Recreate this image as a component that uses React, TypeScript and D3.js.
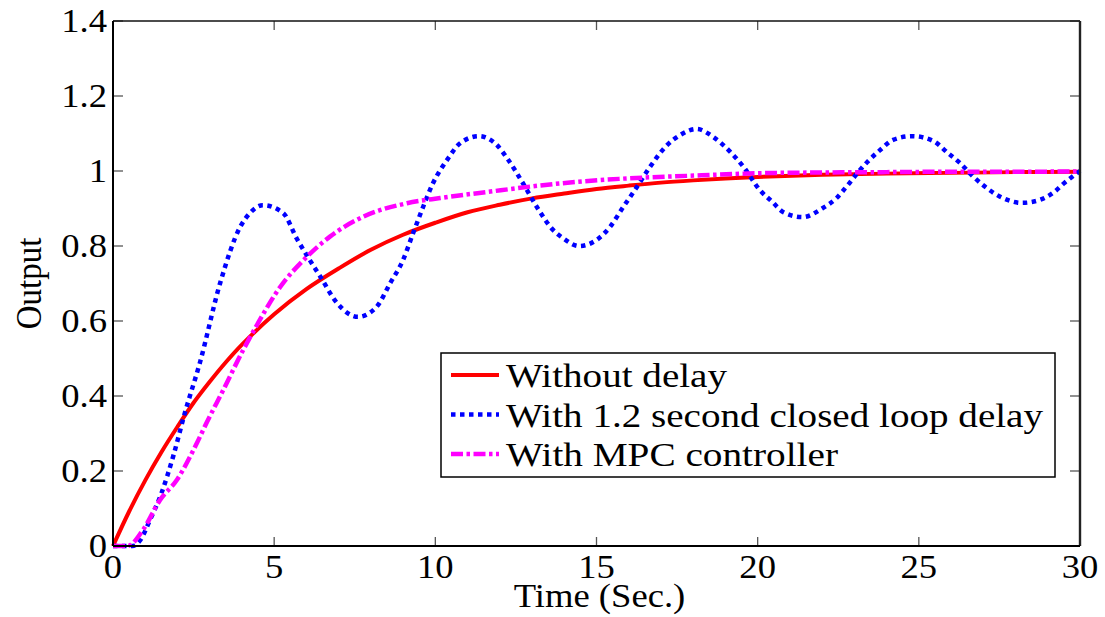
import React from "react";
import * as d3 from "d3";

// ---- data ----
const xTicks = [0, 5, 10, 15, 20, 25, 30];
const yTicks = [0, 0.2, 0.4, 0.6, 0.8, 1, 1.2, 1.4];
const yTickLabels = ["0", "0.2", "0.4", "0.6", "0.8", "1", "1.2", "1.4"];

const redT = [0, 0.5, 1, 1.5, 2, 2.5, 3, 3.5, 4, 5, 6, 7, 8, 9, 10, 11, 12, 13, 14, 15, 16, 17, 18, 19, 20, 22, 24, 26, 28, 30];
const redV = [0, 0.092, 0.175, 0.25, 0.318, 0.382, 0.438, 0.49, 0.537, 0.618, 0.685, 0.74, 0.79, 0.83, 0.862, 0.89, 0.91, 0.927, 0.94, 0.952, 0.961, 0.969, 0.975, 0.98, 0.984, 0.99, 0.993, 0.995, 0.997, 0.998];

const blueT = [0, 0.6, 0.85, 1.15, 1.5, 1.87, 2.23, 2.7, 3.32, 3.94, 4.25, 4.65, 5.28, 5.7, 6.1, 6.42, 6.95, 7.6, 8.18, 8.6, 9.0, 9.31, 9.62, 9.93, 10.36, 10.77, 11.35, 11.9, 12.26, 12.7, 13.15, 13.65, 13.96, 14.46, 15.0, 15.42, 15.83, 16.25, 16.66, 17.19, 17.6, 18.1, 18.62, 19.15, 19.56, 20.07, 20.45, 20.8, 21.4, 22.0, 22.45, 22.8, 23.1, 23.4, 23.8, 24.2, 24.8, 25.45, 25.9, 26.28, 26.7, 27.1, 27.6, 28.2, 28.76, 29.2, 29.5, 30];
const blueV = [0, 0, 0.016, 0.07, 0.14, 0.24, 0.355, 0.49, 0.7, 0.85, 0.888, 0.909, 0.888, 0.82, 0.763, 0.72, 0.648, 0.611, 0.638, 0.701, 0.763, 0.834, 0.904, 0.968, 1.029, 1.074, 1.093, 1.07, 1.03, 0.97, 0.904, 0.843, 0.821, 0.8, 0.816, 0.851, 0.904, 0.957, 1.011, 1.069, 1.096, 1.112, 1.091, 1.051, 1.011, 0.949, 0.918, 0.89, 0.877, 0.9, 0.928, 0.963, 0.995, 1.024, 1.056, 1.083, 1.093, 1.08, 1.048, 1.021, 0.984, 0.955, 0.928, 0.915, 0.923, 0.944, 0.967, 1.0];

const magT = [0, 0.45, 0.93, 1.46, 1.98, 2.6, 2.9, 3.42, 4.04, 4.47, 5.18, 6.0, 6.73, 7.76, 9.12, 10.15, 11.6, 13.65, 15.7, 17.8, 20, 22, 24, 26, 28, 30];
const magV = [0, 0, 0.043, 0.123, 0.176, 0.274, 0.328, 0.416, 0.523, 0.59, 0.69, 0.77, 0.825, 0.878, 0.914, 0.928, 0.944, 0.965, 0.979, 0.987, 0.994, 0.996, 0.997, 0.998, 0.998, 0.999];

const seriesNames = ["Without delay", "With 1.2 second closed loop delay", "With MPC controller"];
const seriesColors = ["#ff0000", "#0000ff", "#ff00ff"];
const seriesDash = ["none", "4.5 4.5", "12 3.5 3.5 3.5"];
const legendWidths = [221, 537, 332];

const W = 1105;
const H = 617;
const L = 113, R = 1080, T = 21, B = 546;
const FONT = "Liberation Serif, Times New Roman, Times, serif";
const SX = 1.11;

export default function App() {
  const x = d3.scaleLinear().domain([0, 30]).range([L, R]);
  const y = d3.scaleLinear().domain([0, 1.4]).range([B, T]);
  const mk = (c: any) =>
    d3
      .line<[number, number]>()
      .x((d) => x(d[0]))
      .y((d) => y(d[1]))
      .curve(c);
  const lines = [mk(d3.curveCatmullRom), mk(d3.curveMonotoneX), mk(d3.curveMonotoneX)];

  const series = [
    redT.map((t, i) => [t, redV[i]] as [number, number]),
    blueT.map((t, i) => [t, blueV[i]] as [number, number]),
    magT.map((t, i) => [t, magV[i]] as [number, number]),
  ];
  const widths = [4, 4.5, 4.5];

  const legX0 = 441, legY0 = 353, legX1 = 1055, legY1 = 477;
  const legBase = [387, 426.5, 466];
  const ts = { fontFamily: FONT };

  return (
    <svg
      width={W}
      height={H}
      style={{ position: "absolute", left: 0, top: 0, background: "#fff" }}
    >
      <rect x={0} y={0} width={W} height={H} fill="#fff" />
      {xTicks.map((t) => (
        <g key={"xt" + t} stroke="#555" strokeWidth={1.3}>
          <line x1={x(t)} x2={x(t)} y1={B} y2={B - 9} />
          <line x1={x(t)} x2={x(t)} y1={T} y2={T + 9} />
        </g>
      ))}
      {yTicks.map((v) => (
        <g key={"yt" + v} stroke="#555" strokeWidth={1.3}>
          <line x1={L} x2={L + 10} y1={y(v)} y2={y(v)} />
          <line x1={R} x2={R - 10} y1={y(v)} y2={y(v)} />
        </g>
      ))}
      {series.map((s, i) => (
        <path
          key={"s" + i}
          d={lines[i](s) || ""}
          fill="none"
          stroke={seriesColors[i]}
          strokeWidth={widths[i]}
          strokeDasharray={seriesDash[i]}
        />
      ))}
      <line x1={L} x2={R} y1={T} y2={T} stroke="#111" strokeWidth={1.6} />
      <line x1={R} x2={R} y1={T} y2={B} stroke="#222" strokeWidth={2.4} />
      <line x1={L} x2={L} y1={T} y2={B} stroke="#000" strokeWidth={2} />
      <line x1={L} x2={R} y1={B} y2={B} stroke="#000" strokeWidth={2} />
      {xTicks.map((t) => (
        <text
          key={"xl" + t}
          transform={`translate(${x(t)},578) scale(${SX},1)`}
          textAnchor="middle"
          fontSize={33}
          fill="#000"
          style={ts}
        >
          {t}
        </text>
      ))}
      {yTicks.map((v, i) => (
        <text
          key={"yl" + v}
          transform={`translate(107,${y(v) + 11}) scale(${SX},1)`}
          textAnchor="end"
          fontSize={33}
          fill="#000"
          style={ts}
        >
          {yTickLabels[i]}
        </text>
      ))}
      <text
        transform={`translate(${(L + R) / 2 + 3},607) scale(${SX},1)`}
        textAnchor="middle"
        fontSize={33}
        fill="#000"
        style={ts}
      >
        Time (Sec.)
      </text>
      <text
        transform={`translate(41,${(T + B) / 2}) scale(${SX},1) rotate(-90)`}
        textAnchor="middle"
        fontSize={33}
        fill="#000"
        style={ts}
      >
        Output
      </text>
      <rect
        x={legX0}
        y={legY0}
        width={legX1 - legX0}
        height={legY1 - legY0}
        fill="#fff"
        stroke="#000"
        strokeWidth={1.5}
      />
      {seriesNames.map((n, i) => (
        <g key={"lg" + i}>
          <line
            x1={451}
            x2={499}
            y1={legBase[i] - 12}
            y2={legBase[i] - 12}
            stroke={seriesColors[i]}
            strokeWidth={widths[i]}
            strokeDasharray={seriesDash[i]}
          />
          <text
            x={506}
            y={legBase[i]}
            fontSize={33}
            fill="#000"
            textLength={legendWidths[i]}
            lengthAdjust="spacingAndGlyphs"
            style={ts}
          >
            {n}
          </text>
        </g>
      ))}
    </svg>
  );
}
